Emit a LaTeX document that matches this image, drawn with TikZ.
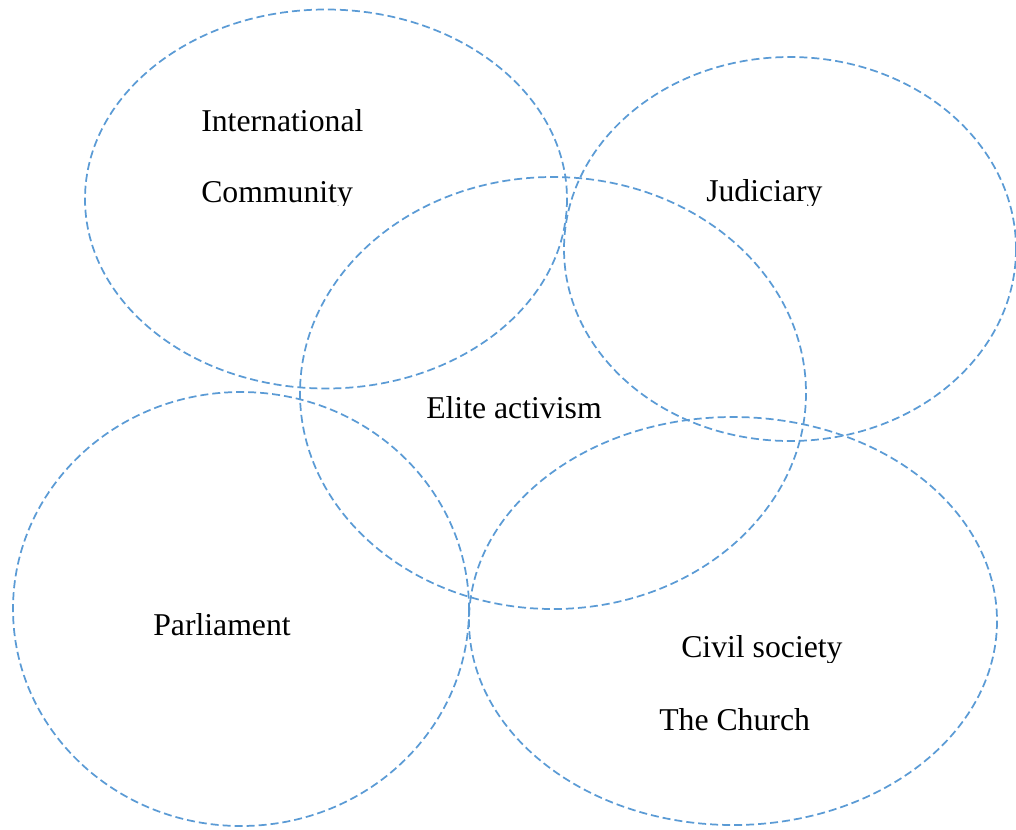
\documentclass[tikz,border=0pt]{standalone}
\usepackage{fontspec}
\setmainfont{Liberation Serif}
\definecolor{ringblue}{RGB}{91,155,213}
\begin{document}
\begin{tikzpicture}[x=0.75pt,y=-0.75pt,
  ring/.style={draw=ringblue,line width=1.3pt,dash pattern=on 6pt off 3pt},
  label/.style={inner sep=0pt,anchor=base west,font=\fontsize{23.8pt}{28pt}\selectfont}]
\useasboundingbox (0,0) rectangle (1016,829);
% the five overlapping spheres
\draw[ring] (326,199) ellipse [x radius=241,y radius=189.5];
\draw[ring] (790,249) ellipse [x radius=226,y radius=192];
\draw[ring] (553,393) ellipse [x radius=253,y radius=216];
\draw[ring] (241,609) ellipse [x radius=228,y radius=217];
\draw[ring] (733,621) ellipse [x radius=264,y radius=204];
% labels (some are cut off at the bottom of their text frame)
\node[label] (intl) at (201,131) {International};
\begin{scope}
  \clip (150,150) rectangle (420,205);
  \node[label] (comm) at (201,202) {Community};
\end{scope}
\begin{scope}
  \clip (680,150) rectangle (860,205);
  \node[label] (jud) at (706,201) {Judiciary};
\end{scope}
\node[label] (elite) at (426,418) {Elite activism};
\node[label] (parl) at (153,635) {Parliament};
\begin{scope}
  \clip (660,610) rectangle (870,662);
  \node[label] (civil) at (681,657) {Civil society};
\end{scope}
\node[label] (church) at (659,730) {The Church};
\end{tikzpicture}
\end{document}
